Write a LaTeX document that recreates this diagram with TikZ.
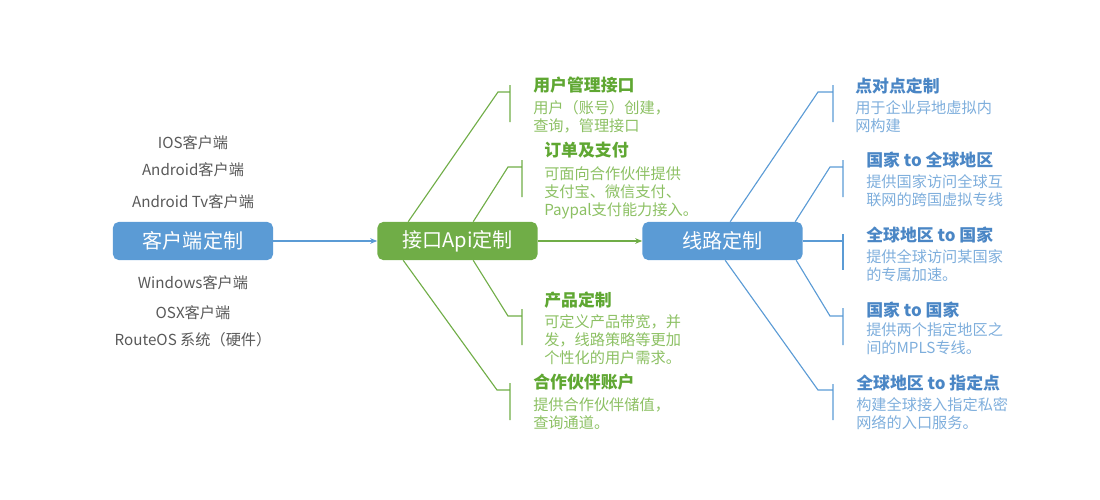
\documentclass[tikz,border=0pt]{standalone}
\usepackage{fontspec}
\setmainfont{Noto Sans CJK SC}
\usetikzlibrary{arrows.meta}
\definecolor{boxblue}{HTML}{5B9BD5}
\definecolor{boxgreen}{HTML}{70AD47}
\definecolor{clientgray}{HTML}{595959}
\definecolor{gtitlecol}{HTML}{5FA732}
\definecolor{gdesccol}{HTML}{8CC063}
\definecolor{btitlecol}{HTML}{4A86C5}
\definecolor{bdesccol}{HTML}{7EAEDC}
\begin{document}
\begin{tikzpicture}[x=0.025cm,y=-0.025cm,
	mainbox/.style={rounded corners=4pt,minimum width=4cm,minimum height=0.95cm,inner sep=0pt,text=white,font=\fontsize{14.3}{16}\selectfont},
	client/.style={text=clientgray,font=\fontsize{10.8}{12}\selectfont},
	gtitle/.style={anchor=west,inner sep=0pt,text=gtitlecol,font=\fontsize{12}{14}\selectfont\bfseries},
	gdesc/.style={anchor=north west,inner sep=0pt,align=left,text=gdesccol,font=\fontsize{10.8}{13}\selectfont},
	btitle/.style={anchor=west,inner sep=0pt,text=btitlecol,font=\fontsize{12}{14}\selectfont\bfseries},
	bdesc/.style={anchor=north west,inner sep=0pt,align=left,text=bdesccol,font=\fontsize{10.8}{13}\selectfont},
	gline/.style={draw=boxgreen,line width=0.8pt},
	bline/.style={draw=boxblue,line width=0.8pt}]
	\useasboundingbox (0,0) rectangle (1100,500);

	% boxes
	\node (cli) at (193,241)[mainbox,fill=boxblue]{客户端定制};
	\node (api) at (457.5,241)[mainbox,fill=boxgreen]{接口Api定制};
	\node (route) at (722.5,241)[mainbox,fill=boxblue]{线路定制};

	\draw[bline,-{Stealth[length=5pt,width=4pt]}] (cli) -- (api);
	\draw[gline,-{Stealth[length=5pt,width=4pt]}] (api) -- (route);

	% clients
	\node (ios) at (193,143)[client]{IOS客户端};
	\node (android) at (193,170)[client]{Android客户端};
	\node (androidtv) at (193,202)[client]{Android Tv客户端};
	\node (windows) at (193,283)[client]{Windows客户端};
	\node (osx) at (193,313)[client]{OSX客户端};
	\node (routeos) at (193,340)[client]{RouteOS 系统（硬件）};

	% api branches
	\coordinate (g1) at (498,92);
	\coordinate (g2) at (508,167);
	\coordinate (g3) at (508,316);
	\coordinate (g4) at (497,390);
	\coordinate (g1b) at (510,92);
	\coordinate (g2b) at (522,167);
	\coordinate (g3b) at (522,316);
	\coordinate (g4b) at (510,390);
	\draw[gline] (api.north west) ++(31,0) -- (g1) -- (g1b) ++(0,-7) -- ++(0,37);
	\draw[gline] (api.north west) ++(96,0) -- (g2) -- (g2b) ++(0,-7) -- ++(0,37);
	\draw[gline] (api.south west) ++(96,0) -- (g3) -- (g3b) ++(0,-7) -- ++(0,36);
	\draw[gline] (api.south west) ++(26,0) -- (g4) -- (g4b) ++(0,-7) -- ++(0,37);

	\node (usert) at (533,85)[gtitle]{用户管理接口};
	\node (userd) at (533,100)[gdesc]{用户（账号）创建，\\查询，管理接口};
	\node (payt) at (544,150)[gtitle]{订单及支付};
	\node (payd) at (544,166)[gdesc]{可面向合作伙伴提供\\支付宝、微信支付、\\Paypal支付能力接入。};
	\node (prodt) at (544,300)[gtitle]{产品定制};
	\node (prodd) at (544,314)[gdesc]{可定义产品带宽，并\\发，线路策略等更加\\个性化的用户需求。};
	\node (partt) at (533,382)[gtitle]{合作伙伴账户};
	\node (partd) at (533,397)[gdesc]{提供合作伙伴储值，\\查询通道。};

	% route branches
	\coordinate (b1) at (818,92);
	\coordinate (b2) at (830,167);
	\coordinate (b4) at (830,316);
	\coordinate (b5) at (818,390);
	\coordinate (b1b) at (833,92);
	\coordinate (b2b) at (843,167);
	\coordinate (b3b) at (843,241);
	\coordinate (b4b) at (843,316);
	\coordinate (b5b) at (833,390);
	\draw[bline] (route.north west) ++(88,0) -- (b1) -- (b1b) ++(0,-7) -- ++(0,37);
	\draw[bline] (route.north west) ++(153,0) -- (b2) -- (b2b) ++(0,-7) -- ++(0,37);
	\draw[bline] (route.east) -- (b3b) ++(0,-7) -- ++(0,36);
	\draw[bline] (route.south west) ++(154,0) -- (b4) -- (b4b) ++(0,-8) -- ++(0,37);
	\draw[bline] (route.south west) ++(83,0) -- (b5) -- (b5b) ++(0,-6) -- ++(0,36);

	\node (p2pt) at (855,86)[btitle]{点对点定制};
	\node (p2pd) at (855,100)[bdesc]{用于企业异地虚拟内\\网构建};
	\node (c2gt) at (866,160)[btitle]{国家 to 全球地区};
	\node (c2gd) at (866,174)[bdesc]{提供国家访问全球互\\联网的跨国虚拟专线};
	\node (g2ct) at (866,235)[btitle]{全球地区 to 国家};
	\node (g2cd) at (866,249)[bdesc]{提供全球访问某国家\\的专属加速。};
	\node (c2ct) at (866,310)[btitle]{国家 to 国家};
	\node (c2cd) at (866,322)[bdesc]{提供两个指定地区之\\间的MPLS专线。};
	\node (g2pt) at (856,383)[btitle]{全球地区 to 指定点};
	\node (g2pd) at (856,397)[bdesc]{构建全球接入指定私密\\网络的入口服务。};
\end{tikzpicture}
\end{document}
